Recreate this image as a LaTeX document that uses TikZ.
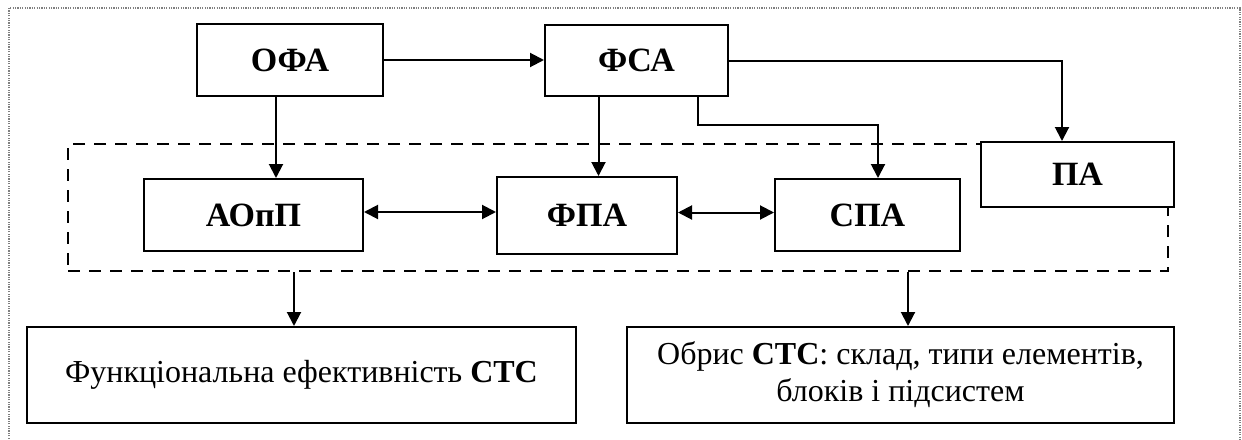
\documentclass[tikz,border=0pt]{standalone}
\usepackage{fontspec}
\setmainfont{Liberation Serif}
\usetikzlibrary{arrows.meta}
\newcommand{\blokfont}{\fontsize{17}{19}\selectfont\bfseries}
\newcommand{\rezfont}{\fontsize{16}{16.5}\selectfont}

\begin{document}
\begin{tikzpicture}[x=0.5pt,y=-0.5pt,
    blok/.style={draw, line width=1pt, fill=white, inner sep=0pt, font=\blokfont},
    rez/.style={draw, line width=1pt, fill=white, inner sep=0pt, align=center, font=\rezfont},
    arr/.style={line width=1pt, -{Triangle[length=7pt,width=7pt]}},
    darr/.style={line width=1pt, {Triangle[length=7pt,width=7pt]}-{Triangle[length=7pt,width=7pt]}},
    grp/.style={draw, line width=1.2pt, dash pattern=on 6pt off 4.5pt, inner sep=0pt}
  ]
  \useasboundingbox (0,0) rectangle (1242,439);

  % ---------- outer frame ----------
  \draw[gray, line width=0.7pt, dash pattern=on 0.6pt off 0.6pt] (9,470) -- (9,8) -- (1240,8) -- (1240,470);

  % ---------- top row ----------
  \node[blok, minimum width=93pt, minimum height=36pt] (ofa) at (290,60) {ОФА};
  \node[blok, minimum width=91.5pt, minimum height=35.5pt] (fsa) at (636.5,60.5) {ФСА};

  % ---------- dashed group (ПА covers its corner) ----------
  \node[grp, minimum width=550pt, minimum height=63.5pt] (grupa) at (618,207.5) {};
  \node[blok, minimum width=96.5pt, minimum height=32.5pt] (pa) at (1077.5,174.5) {ПА};

  % ---------- middle row ----------
  \node[blok, minimum width=109.5pt, minimum height=36pt] (aopp) at (253.5,215) {АОпП};
  \node[blok, minimum width=90pt, minimum height=38.5pt] (fpa) at (587,215.5) {ФПА};
  \node[blok, minimum width=92.5pt, minimum height=36pt] (spa) at (867.5,215) {СПА};

  % ---------- results ----------
  \node[rez, minimum width=274.5pt, minimum height=48pt] (efekt) at (301.5,375) {Функціональна ефективність \textbf{СТС}};
  \node[rez, minimum width=273.5pt, minimum height=48pt] (obrys) at (900.5,375) {Обрис \textbf{СТС}: склад, типи елементів,\\[2pt] блоків і підсистем};

  % ---------- connectors ----------
  \draw[arr] (ofa.east) -- (ofa.east -| fsa.west);
  \draw[arr] ([xshift=-7pt]ofa.south) -- ([xshift=-7pt]ofa.south |- aopp.north);
  \draw[arr] ([xshift=-19pt]fsa.south) -- ([xshift=-19pt]fsa.south |- fpa.north);
  \draw[arr] ([xshift=30.75pt]fsa.south) -- ++(0,28) -| ([xshift=5.25pt]spa.north);
  \draw[arr] (fsa.east) -| ([xshift=-7.75pt]pa.north);
  \draw[darr] ([yshift=1.5pt]aopp.east) -- ([yshift=1.5pt]aopp.east -| fpa.west);
  \draw[darr] ([yshift=1.5pt]fpa.east) -- ([yshift=1.5pt]fpa.east -| spa.west);
  \draw[arr] ([xshift=-3.75pt]efekt.north |- grupa.south) -- ([xshift=-3.75pt]efekt.north);
  \draw[arr] ([xshift=3.75pt]obrys.north |- grupa.south) -- ([xshift=3.75pt]obrys.north);
\end{tikzpicture}
\end{document}
